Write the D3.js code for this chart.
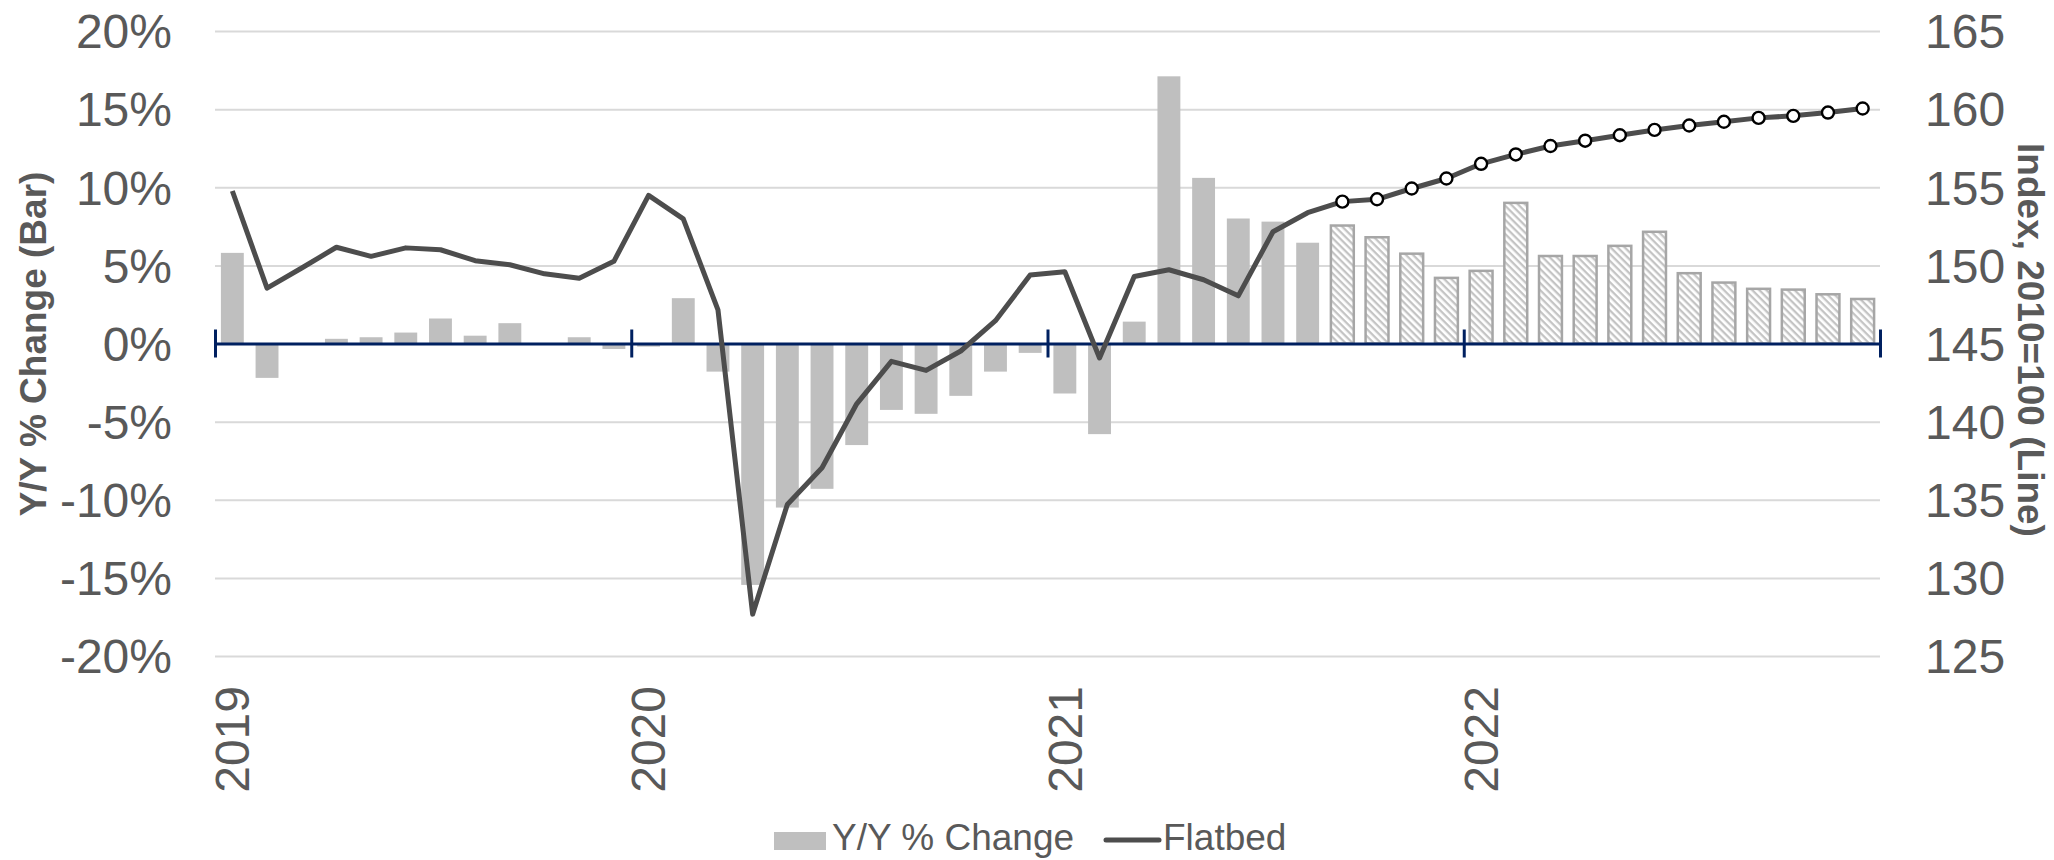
<!doctype html>
<html>
  <head>
    <meta charset="utf-8">
    <title>Flatbed index and Y/Y % change</title>
    <style>
      body { margin: 0; background: #fff; }
      svg { display: block; font-family: "Liberation Sans", Arial, sans-serif; }
      .tick-label { fill: #595959; font-size: 48px; }
      .axis-title { fill: #595959; font-size: 37px; font-weight: bold; }
      .legend text { fill: #595959; font-size: 37px; }
    </style>
  </head>
  <body>

  <script src="https://cdnjs.cloudflare.com/ajax/libs/d3/7.8.5/d3.min.js"></script>

    <script>

    // data (Jan 2019 .. Dec 2022)
    var years = ["2019", "2020", "2021", "2022"];

    var yoy = [
       5.8, -2.2,  0.0,  0.3,  0.4,  0.7,  1.6,  0.5,  1.3,  0.0,  0.4, -0.35,
      -0.2,  2.9, -1.8, -15.45, -10.5, -9.3, -6.5, -4.25, -4.5, -3.35, -1.8, -0.6,
      -3.2, -5.8,  1.4, 17.1, 10.6,  8.0,  7.8,  6.45,  7.55,  6.8,  5.75,  4.2,
       4.65, 9.0,  5.6,  5.6,  6.25,  7.15,  4.5,  3.9,  3.5,  3.45,  3.15,  2.85
    ];

    var flatbed = [
      154.76, 148.54, 149.83, 151.16, 150.58, 151.12, 151.0, 150.3, 150.04, 149.46, 149.18, 150.26,
      154.48, 152.98, 147.15, 127.68, 134.7, 137.05, 141.14, 143.86, 143.28, 144.52, 146.46, 149.38,
      149.59, 144.07, 149.29, 149.72, 149.08, 148.05, 152.15, 153.37, 154.08, 154.23, 154.92, 155.56,
      156.5, 157.1, 157.64, 157.98, 158.33, 158.67, 158.95, 159.19, 159.44, 159.57, 159.78, 160.04
    ];

    // first forecast month (Sep 2021): hatched bars + markers from here on
    var forecastStart = 32;

    var leftTicks = [-20, -15, -10, -5, 0, 5, 10, 15, 20];
    var rightTicks = [125, 130, 135, 140, 145, 150, 155, 160, 165];

    var months = d3.range(yoy.length);

    var W = 2054, H = 860;
    var plot = { x0: 215, x1: 1880, y0: 31, y1: 656 };

    var svg = d3.select("body").append("svg")
      .attr("width", W)
      .attr("height", H);

    var defs = svg.append("defs");
    var pat = defs.append("pattern")
      .attr("id", "hatch")
      .attr("patternUnits", "userSpaceOnUse")
      .attr("width", 5)
      .attr("height", 5)
      .attr("patternTransform", "rotate(45)");
    pat.append("rect").attr("width", 5).attr("height", 5).attr("fill", "#fff");
    pat.append("rect").attr("width", 5).attr("height", 2.3).attr("fill", "#c4c4c4");

    var x = d3.scaleBand()
      .domain(months)
      .range([plot.x0, plot.x1])
      .paddingInner(0.34)
      .paddingOuter(0.17);

    var xEdge = d3.scaleLinear()
      .domain([0, months.length])
      .range([plot.x0, plot.x1]);

    var y = d3.scaleLinear().domain([-20, 20]).range([plot.y1, plot.y0]);
    var y2 = d3.scaleLinear().domain([125, 165]).range([plot.y1, plot.y0]);

    // gridlines
    svg.append("g")
      .attr("transform", "translate(" + plot.x0 + ",0)")
      .call(d3.axisLeft(y).tickValues(leftTicks).tickSize(-(plot.x1 - plot.x0)).tickFormat(""))
      .call(function(g) {
        g.select(".domain").remove();
        g.selectAll(".tick line").attr("stroke", "#d9d9d9").attr("stroke-width", 2);
      });

    // left labels
    svg.append("g")
      .attr("transform", "translate(172,0)")
      .call(d3.axisLeft(y).tickValues(leftTicks).tickSize(0).tickPadding(0)
        .tickFormat(function(d) { return d + "%"; }))
      .call(function(g) {
        g.select(".domain").remove();
        g.selectAll("text").attr("class", "tick-label").attr("fill", null)
          .style("font-size", "48px").attr("dy", "0.35em");
      });

    // right labels
    svg.append("g")
      .attr("transform", "translate(1925,0)")
      .call(d3.axisRight(y2).tickValues(rightTicks).tickSize(0).tickPadding(0))
      .call(function(g) {
        g.select(".domain").remove();
        g.selectAll("text").attr("class", "tick-label").attr("fill", null)
          .style("font-size", "48px").attr("dy", "0.35em");
      });

    // bars
    svg.append("g").selectAll("rect")
      .data(months)
      .join("rect")
      .attr("x", function(i) { return x(i); })
      .attr("width", x.bandwidth())
      .attr("y", function(i) { return y(Math.max(0, yoy[i])); })
      .attr("height", function(i) { return Math.abs(y(yoy[i]) - y(0)); })
      .attr("fill", function(i) { return i >= forecastStart ? "url(#hatch)" : "#bfbfbf"; })
      .attr("stroke", function(i) { return i >= forecastStart ? "#a6a6a6" : "none"; })
      .attr("stroke-width", 2.5);

    // category axis at 0%
    svg.append("g")
      .attr("transform", "translate(0," + y(0) + ")")
      .call(d3.axisBottom(xEdge).tickValues([0, 12, 24, 36, 48]).tickSize(14).tickSizeOuter(0).tickFormat(""))
      .call(function(g) {
        g.select(".domain").attr("stroke", "#002060").attr("stroke-width", 3);
        g.selectAll(".tick line").attr("stroke", "#002060").attr("stroke-width", 3).attr("y1", -14);
      });

    // year labels
    svg.append("g").selectAll("text")
      .data(years)
      .join("text")
      .attr("class", "tick-label")
      .attr("text-anchor", "end")
      .attr("dy", "0.35em")
      .attr("transform", function(d, k) {
        return "translate(" + (x(k * 12) + x.bandwidth() / 2) + ",686) rotate(-90)";
      })
      .text(function(d) { return d; });

    // flatbed line
    var line = d3.line()
      .x(function(i) { return x(i) + x.bandwidth() / 2; })
      .y(function(i) { return y2(flatbed[i]); });

    svg.append("path")
      .datum(months)
      .attr("fill", "none")
      .attr("stroke", "#4d4d4d")
      .attr("stroke-width", 5)
      .attr("stroke-linejoin", "round")
      .attr("d", line);

    svg.append("g").selectAll("circle")
      .data(months.filter(function(i) { return i >= forecastStart; }))
      .join("circle")
      .attr("cx", function(i) { return x(i) + x.bandwidth() / 2; })
      .attr("cy", function(i) { return y2(flatbed[i]); })
      .attr("r", 6)
      .attr("fill", "#fff")
      .attr("stroke", "#000")
      .attr("stroke-width", 2.4);

    // axis titles
    svg.append("text")
      .attr("class", "axis-title")
      .attr("text-anchor", "middle")
      .attr("dy", "0.35em")
      .attr("transform", "translate(33,344) rotate(-90)")
      .text("Y/Y % Change (Bar)");

    svg.append("text")
      .attr("class", "axis-title")
      .attr("text-anchor", "middle")
      .attr("dy", "0.35em")
      .attr("transform", "translate(2031,340) rotate(90)")
      .text("Index, 2010=100 (Line)");

    // legend
    var lg = svg.append("g").attr("class", "legend");
    lg.append("rect").attr("x", 774).attr("y", 832).attr("width", 52).attr("height", 18).attr("fill", "#bfbfbf");
    lg.append("text").attr("x", 832).attr("y", 850).text("Y/Y % Change");
    lg.append("line").attr("x1", 1106).attr("x2", 1159).attr("y1", 840).attr("y2", 840)
      .attr("stroke", "#4d4d4d").attr("stroke-width", 5).attr("stroke-linecap", "round");
    lg.append("text").attr("x", 1163).attr("y", 850).text("Flatbed");

    </script>

  </body>
</html>
